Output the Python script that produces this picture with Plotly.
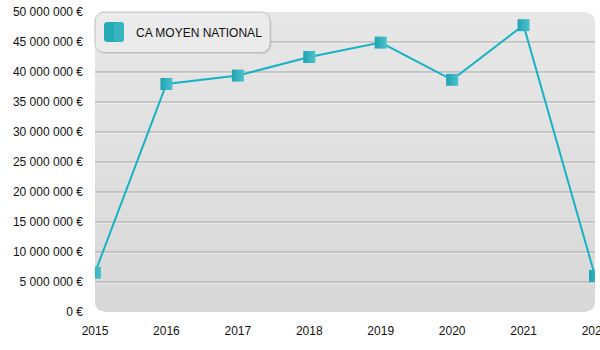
import math
import plotly.graph_objects as go

# Chiffre d'affaires moyen national par année
years = [2015, 2016, 2017, 2018, 2019, 2020, 2021, 2022]
ca_moyen = [6_550_000, 38_000_000, 39_400_000, 42_500_000, 44_900_000, 38_700_000, 47_800_000, 6_000_000]
series_name = "CA MOYEN NATIONAL"
y_ticks = [0, 5_000_000, 10_000_000, 15_000_000, 20_000_000, 25_000_000,
           30_000_000, 35_000_000, 40_000_000, 45_000_000, 50_000_000]
y_tick_text = [f"{v:,}".replace(",", " ") + " €" for v in y_ticks]

W, H = 600, 350
L, R, T, B = 95, 595, 12, 312          # plot area in pixels
Y_MAX = y_ticks[-1]


def px(x):
    return (x - L) / (R - L)


def py(y):
    return (B - y) / (B - T)


def rounded_rect(x0, y0, x1, y1, r):
    """SVG path (paper coords) of a rounded rectangle given in pixels."""
    pts = []
    n = 8
    corners = [(x1 - r, y0 + r, -90, 0), (x1 - r, y1 - r, 0, 90),
               (x0 + r, y1 - r, 90, 180), (x0 + r, y0 + r, 180, 270)]
    for cx, cy, a0, a1 in corners:
        for i in range(n + 1):
            a = math.radians(a0 + (a1 - a0) * i / n)
            pts.append((cx + r * math.cos(a), cy + r * math.sin(a)))
    d = "M " + " L ".join(f"{px(x):.5f},{py(y):.5f}" for x, y in pts) + " Z"
    return d


def band_path(x0, y0, x1, y1, r, ya, yb):
    """Horizontal slice [ya, yb] of a rounded rectangle, as a paper path."""
    def half_width_inset(y):
        if y < y0 + r:
            dy = (y0 + r) - y
            return r - math.sqrt(max(r * r - dy * dy, 0))
        if y > y1 - r:
            dy = y - (y1 - r)
            return r - math.sqrt(max(r * r - dy * dy, 0))
        return 0.0
    steps = 6
    ys = [ya + (yb - ya) * i / steps for i in range(steps + 1)]
    left = [(x0 + half_width_inset(y), y) for y in ys]
    right = [(x1 - half_width_inset(y), y) for y in reversed(ys)]
    pts = left + right
    return "M " + " L ".join(f"{px(x):.5f},{py(y):.5f}" for x, y in pts) + " Z"


def mix(c0, c1, t):
    return "#" + "".join(f"{round(a + (b - a) * t):02x}" for a, b in zip(c0, c1))


shapes = []

# plot background: vertical grey gradient inside a rounded rectangle
top_col, bot_col = (0xe7, 0xe7, 0xe7), (0xd8, 0xd8, 0xd8)
n_bands = 30
for i in range(n_bands):
    ya = T + (B - T) * i / n_bands
    yb = T + (B - T) * (i + 1) / n_bands + (0.6 if i < n_bands - 1 else 0)
    shapes.append(dict(type="path", xref="paper", yref="paper", layer="below",
                       path=band_path(L, T, R, B, 10, ya, yb),
                       fillcolor=mix(top_col, bot_col, (i + 0.5) / n_bands),
                       line=dict(width=0)))

# horizontal grid lines with a light highlight just beneath
px_per_unit = (B - T) / Y_MAX
for v in y_ticks[1:-1]:
    shapes.append(dict(type="line", xref="paper", yref="y", layer="below",
                       x0=0, x1=1, y0=v - 1 / px_per_unit, y1=v - 1 / px_per_unit,
                       line=dict(color="#f4f4f4", width=1)))
    shapes.append(dict(type="line", xref="paper", yref="y", layer="below",
                       x0=0, x1=1, y0=v, y1=v,
                       line=dict(color="#a6a6a6", width=1)))

# legend box with soft shadow
lx0, ly0, lx1, ly1 = 95, 12, 270, 52.5
shapes.append(dict(type="path", xref="paper", yref="paper", layer="above",
                   path=rounded_rect(lx0 + 1.5, ly0 + 1.5, lx1 + 1.5, ly1 + 1.5, 9),
                   fillcolor="rgba(0,0,0,0.10)", line=dict(width=0)))
shapes.append(dict(type="path", xref="paper", yref="paper", layer="above",
                   path=rounded_rect(lx0, ly0, lx1, ly1, 9),
                   fillcolor="#ebebeb", line=dict(color="#c0c0c0", width=1)))
shapes.append(dict(type="path", xref="paper", yref="paper", layer="above",
                   path=rounded_rect(104, 22, 124, 42, 3),
                   fillcolor="#25aab6", line=dict(width=0)))
shapes.append(dict(type="path", xref="paper", yref="paper", layer="above",
                   path=rounded_rect(114, 22, 124, 42, 3),
                   fillcolor="rgba(90,200,210,0.35)", line=dict(width=0)))

fig = go.Figure()
fig.add_trace(go.Scatter(
    x=years, y=ca_moyen, name=series_name, mode="lines+markers",
    line=dict(color="#17b3c5", width=2),
    marker=dict(symbol="square", size=12, color="#1fa3b0",
                gradient=dict(type="horizontal", color="#4cc2cc"),
                line=dict(width=0)),
    showlegend=False,
))

fig.update_layout(
    width=W, height=H,
    margin=dict(l=L, r=W - R, t=T, b=H - B),
    paper_bgcolor="white", plot_bgcolor="rgba(0,0,0,0)",
    font=dict(family="Liberation Sans, Arial, sans-serif", size=12, color="#111111"),
    shapes=shapes,
    annotations=[dict(text=series_name, xref="paper", yref="paper",
                      x=px(134), y=py(32.5), xanchor="left", yanchor="middle",
                      showarrow=False, font=dict(size=12, color="#111111"))],
    xaxis=dict(range=[years[0], years[-1]], tickvals=years, ticktext=[str(y) for y in years],
               showgrid=False, zeroline=False, showline=False, ticks="",
               ticklabelstandoff=10, ticklabeloverflow="allow", automargin=False),
    yaxis=dict(range=[0, Y_MAX], tickvals=y_ticks, ticktext=y_tick_text,
               showgrid=False, zeroline=False, showline=False, ticks="",
               ticklabelstandoff=11, automargin=False),
)

fig.write_html("out.html")
